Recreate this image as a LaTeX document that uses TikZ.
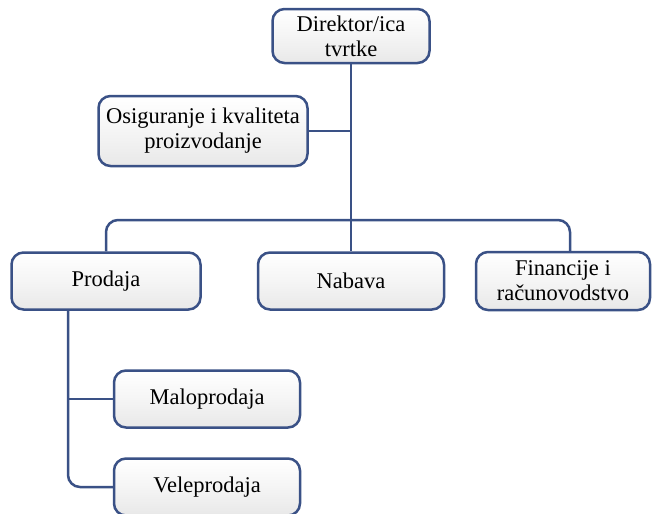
\documentclass[tikz,border=0pt]{standalone}
\usepackage{fontspec}
\setmainfont{Liberation Serif}
\begin{document}
\definecolor{frame}{HTML}{3A5186}
\tikzset{
  unit box/.style={draw=frame, line width=2.5pt, rounded corners=12pt,
    top color=white, bottom color=black!9, middle color=black!4,
    align=center, inner sep=0pt, font=\fontsize{22.5}{25}\selectfont},
  link/.style={draw=frame, line width=2.5pt, rounded corners=12pt}
}
\begin{tikzpicture}[x=1pt,y=-1pt]
\useasboundingbox (0,0) rectangle (656,514);
% boxes
\node[unit box, minimum width=157pt, minimum height=54pt] (dir) at (351,36) {Direktor/ica\\tvrtke};
\node[unit box, minimum width=209pt, minimum height=70pt] (osig) at (203,131) {Osiguranje i kvaliteta\\proizvodanje};
\node[unit box, minimum width=189pt, minimum height=57pt] (prod) at (106,281) {Prodaja};
\node[unit box, minimum width=186pt, minimum height=57pt] (nab) at (351,281) {Nabava};
\node[unit box, minimum width=174pt, minimum height=58pt] (fin) at (563,281) {Financije i\\računovodstvo};
\node[unit box, minimum width=186pt, minimum height=57pt] (malo) at (207,399) {Maloprodaja};
\node[unit box, minimum width=186pt, minimum height=57pt] (vele) at (207,487) {Veleprodaja};
% connector points
\coordinate (busR) at (570,220);
\coordinate (prodT) at (68,310);
% connectors
\path[link] (dir.south) -- (nab.north);
\path[link] (osig.east) -- (osig.east -| dir.south);
\path[link] (prod.north) |- (busR) -- (busR |- fin.north);
\path[link] (prodT) |- (vele.west);
\path[link] (malo.west) -- (malo.west -| prodT);
\end{tikzpicture}
\end{document}
